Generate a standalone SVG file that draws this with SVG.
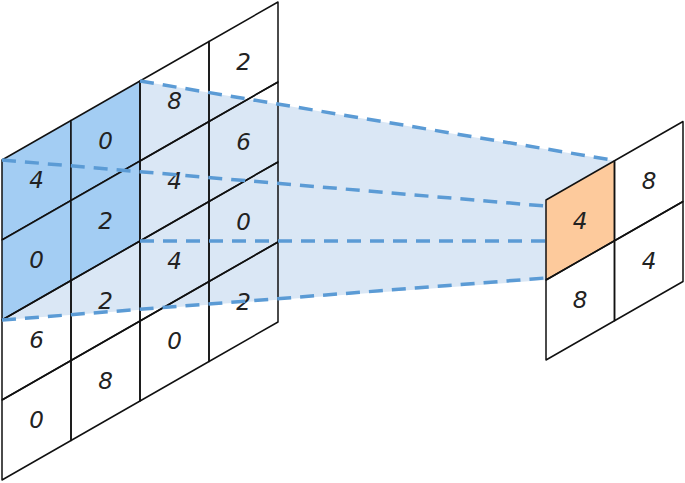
<svg xmlns="http://www.w3.org/2000/svg" width="685" height="483" viewBox="0 0 685 483">
<style>
.cell{stroke:#111;stroke-width:1.5;stroke-linejoin:round;fill:none}
.dark{fill:#a3cdf3}
.orange{fill:#fdca9c}
.num{font-family:"DejaVu Sans","Liberation Sans",sans-serif;font-style:italic;font-size:23px;fill:#222;text-anchor:middle;dominant-baseline:central}
.dash{stroke:#5b9bd5;stroke-width:3.5;stroke-dasharray:14 9;fill:none}
</style>
<rect width="685" height="483" fill="#fff"/>
<g id="projection">
<polygon points="2,160 140,81 614.5,160.75 614.5,240.75 546,280 2,320" fill="#dae7f5"/>
</g>
<g id="input-grid">
<g id="in-0-0"><polygon class="cell dark" points="2,160 71,120.5 71,200.5 2,240"/><text class="num" x="36.5" y="180">4</text></g>
<g id="in-1-0"><polygon class="cell dark" points="71,120.5 140,81 140,161 71,200.5"/><text class="num" x="105.5" y="141">0</text></g>
<g id="in-2-0"><polygon class="cell" points="140,81 209,41.5 209,121.5 140,161"/><text class="num" x="174.5" y="101">8</text></g>
<g id="in-3-0"><polygon class="cell" points="209,41.5 278,2 278,82 209,121.5"/><text class="num" x="243.5" y="62">2</text></g>
<g id="in-0-1"><polygon class="cell dark" points="2,240 71,200.5 71,280.5 2,320"/><text class="num" x="36.5" y="260">0</text></g>
<g id="in-1-1"><polygon class="cell dark" points="71,200.5 140,161 140,241 71,280.5"/><text class="num" x="105.5" y="221">2</text></g>
<g id="in-2-1"><polygon class="cell" points="140,161 209,121.5 209,201.5 140,241"/><text class="num" x="174.5" y="181">4</text></g>
<g id="in-3-1"><polygon class="cell" points="209,121.5 278,82 278,162 209,201.5"/><text class="num" x="243.5" y="142">6</text></g>
<g id="in-0-2"><polygon class="cell" points="2,320 71,280.5 71,360.5 2,400"/><text class="num" x="36.5" y="340">6</text></g>
<g id="in-1-2"><polygon class="cell" points="71,280.5 140,241 140,321 71,360.5"/><text class="num" x="105.5" y="301">2</text></g>
<g id="in-2-2"><polygon class="cell" points="140,241 209,201.5 209,281.5 140,321"/><text class="num" x="174.5" y="261">4</text></g>
<g id="in-3-2"><polygon class="cell" points="209,201.5 278,162 278,242 209,281.5"/><text class="num" x="243.5" y="222">0</text></g>
<g id="in-0-3"><polygon class="cell" points="2,400 71,360.5 71,440.5 2,480"/><text class="num" x="36.5" y="420">0</text></g>
<g id="in-1-3"><polygon class="cell" points="71,360.5 140,321 140,401 71,440.5"/><text class="num" x="105.5" y="381">8</text></g>
<g id="in-2-3"><polygon class="cell" points="140,321 209,281.5 209,361.5 140,401"/><text class="num" x="174.5" y="341">0</text></g>
<g id="in-3-3"><polygon class="cell" points="209,281.5 278,242 278,322 209,361.5"/><text class="num" x="243.5" y="302">2</text></g>
</g>
<g id="output-grid">
<g id="out-0-0"><polygon class="cell orange" points="546,200 614.5,160.75 614.5,240.75 546,280"/><text class="num" x="580" y="221">4</text></g>
<g id="out-1-0"><polygon class="cell" points="614.5,160.75 683,121.5 683,201.5 614.5,240.75"/><text class="num" x="649" y="181">8</text></g>
<g id="out-0-1"><polygon class="cell" points="546,280 614.5,240.75 614.5,320.75 546,360"/><text class="num" x="580" y="300">8</text></g>
<g id="out-1-1"><polygon class="cell" points="614.5,240.75 683,201.5 683,281.5 614.5,320.75"/><text class="num" x="649" y="261">4</text></g>
</g>
<g id="connectors">
<line class="dash" x1="140" y1="81" x2="612" y2="160"/>
<line class="dash" x1="2" y1="160" x2="545" y2="206"/>
<line class="dash" x1="140" y1="241" x2="545" y2="241"/>
<line class="dash" x1="2" y1="320" x2="545" y2="278"/>
</g>
</svg>
